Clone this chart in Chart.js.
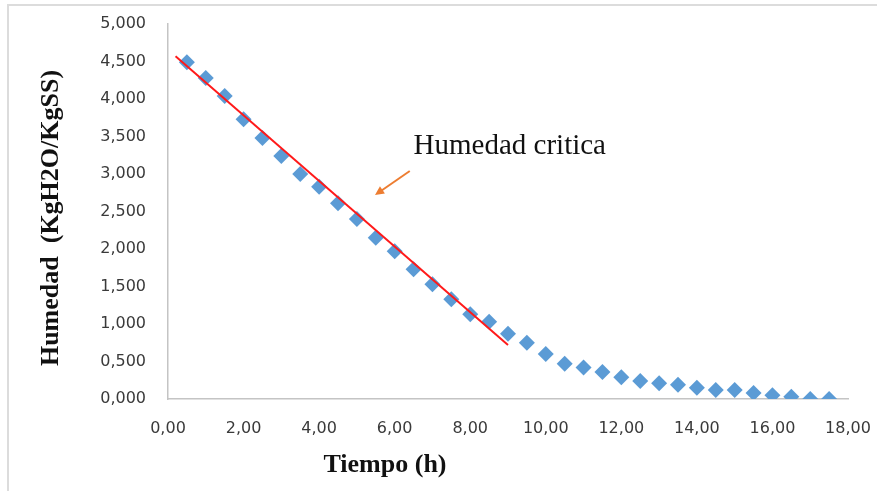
<!DOCTYPE html>
<html>
<head>
<meta charset="utf-8">
<script src="https://cdn.jsdelivr.net/npm/chart.js@4.4.1/dist/chart.umd.min.js"></script>
<style>
  html, body { margin: 0; padding: 0; background: #fff; }
  .wrap { width: 877px; height: 491px; position: relative; }
</style>
</head>
<body>
<div class="wrap"><canvas class="secado-chart"></canvas></div>
<script>
// data
const tiempo = [0.5, 1.0, 1.5, 2.0, 2.5, 3.0, 3.5, 4.0, 4.5, 5.0, 5.5, 6.0, 6.5, 7.0, 7.5, 8.0, 8.5, 9.0,
                9.5, 10.0, 10.5, 11.0, 11.5, 12.0, 12.5, 13.0, 13.5, 14.0, 14.5, 15.0, 15.5, 16.0, 16.5, 17.0, 17.5];
const humedad = [4.49, 4.28, 4.04, 3.73, 3.48, 3.24, 3.00, 2.83, 2.61, 2.40, 2.15, 1.97, 1.73, 1.53, 1.33, 1.13, 1.03, 0.87,
                 0.75, 0.60, 0.47, 0.42, 0.36, 0.29, 0.24, 0.21, 0.19, 0.15, 0.12, 0.12, 0.08, 0.05, 0.03, 0.00, 0.00];

// red trend line (start / end)
const tendenciaX = [0.2, 9.0];
const tendenciaY = [4.57, 0.72];

// annotation: "Humedad critica" with arrow
const notaTexto = 'Humedad critica';
const notaPos = [6.5, 3.37];
const flechaDesde = [6.4, 3.04];
const flechaHasta = [5.48, 2.72];

const tituloY = 'Humedad  (KgH2O/KgSS)';
const tituloX = 'Tiempo (h)';

const ctx = document.querySelector('.secado-chart');

// tick padding would otherwise push the plot area in
function noScalePadding(scale) {
    scale.paddingTop = 0;
    scale.paddingBottom = 0;
    scale.paddingLeft = 0;
    scale.paddingRight = 0;
}

// titles, arrow, note and the cropped frame
const extras = {
    id: 'extras',
    afterDraw(chart) {
        const c = chart.ctx;
        const xs = chart.scales.x, ys = chart.scales.y;
        c.save();

        // frame (only top and left visible)
        c.strokeStyle = '#dcdcdc';
        c.lineWidth = 2;
        c.beginPath();
        c.moveTo(8, 491);
        c.lineTo(8, 5);
        c.lineTo(877, 5);
        c.stroke();

        // note text
        c.fillStyle = '#111';
        c.font = '29px "Liberation Serif", serif';
        c.textAlign = 'left';
        c.textBaseline = 'middle';
        c.fillText(notaTexto, xs.getPixelForValue(notaPos[0]), ys.getPixelForValue(notaPos[1]));

        // arrow
        const x1 = xs.getPixelForValue(flechaDesde[0]), y1 = ys.getPixelForValue(flechaDesde[1]);
        const x2 = xs.getPixelForValue(flechaHasta[0]), y2 = ys.getPixelForValue(flechaHasta[1]);
        const ang = Math.atan2(y2 - y1, x2 - x1);
        const head = 10;
        c.strokeStyle = '#ed7d31';
        c.fillStyle = '#ed7d31';
        c.lineWidth = 2;
        c.beginPath();
        c.moveTo(x1, y1);
        c.lineTo(x2 - Math.cos(ang) * head * 0.8, y2 - Math.sin(ang) * head * 0.8);
        c.stroke();
        c.beginPath();
        c.moveTo(x2, y2);
        c.lineTo(x2 - head * Math.cos(ang - 0.45), y2 - head * Math.sin(ang - 0.45));
        c.lineTo(x2 - head * Math.cos(ang + 0.45), y2 - head * Math.sin(ang + 0.45));
        c.closePath();
        c.fill();

        // axis titles
        c.fillStyle = '#111';
        c.font = 'bold 26px "Liberation Serif", serif';
        c.textAlign = 'center';
        c.textBaseline = 'middle';
        c.fillText(tituloX, 385, 465);

        c.translate(51, 218);
        c.rotate(-Math.PI / 2);
        c.fillText(tituloY, 0, 0);
        c.restore();
    }
};

new Chart(ctx, {
    type: 'scatter',
    data: {
        datasets: [{
            label: 'Humedad',
            data: tiempo.map((t, i) => ({ x: t, y: humedad[i] })),
            pointStyle: 'rectRot',
            pointRadius: 8,
            pointHoverRadius: 8,
            backgroundColor: '#5b9bd5',
            borderColor: '#5b9bd5',
            borderWidth: 0,
            order: 2
        }, {
            type: 'line',
            label: 'Tendencia',
            data: tendenciaX.map((t, i) => ({ x: t, y: tendenciaY[i] })),
            borderColor: '#ff1a1a',
            borderWidth: 2,
            pointRadius: 0,
            fill: false,
            order: 1
        }]
    },
    options: {
        responsive: true,
        maintainAspectRatio: false,
        animation: false,
        layout: {
            padding: { left: 0, top: 24, right: 29, bottom: 0 }
        },
        scales: {
            x: {
                type: 'linear',
                min: 0,
                max: 18,
                afterFit(scale) { scale.height = 92; noScalePadding(scale); },
                border: { display: true, color: '#c4c4c4', width: 1.5 },
                grid: { display: false, drawTicks: false },
                ticks: {
                    stepSize: 2,
                    padding: 20,
                    color: '#3a3a3a',
                    font: { family: 'DejaVu Sans', size: 16 },
                    callback: v => v.toFixed(2).replace('.', ',')
                }
            },
            y: {
                min: 0,
                max: 5,
                afterFit(scale) { scale.width = 168; noScalePadding(scale); },
                border: { display: true, color: '#c4c4c4', width: 1.5 },
                grid: { display: false, drawTicks: false },
                ticks: {
                    stepSize: 0.5,
                    padding: 22,
                    color: '#3a3a3a',
                    font: { family: 'DejaVu Sans', size: 16 },
                    callback: v => v.toFixed(3).replace('.', ',')
                }
            }
        },
        plugins: {
            legend: { display: false },
            tooltip: { enabled: false }
        }
    },
    plugins: [extras]
});
</script>
</body>
</html>
